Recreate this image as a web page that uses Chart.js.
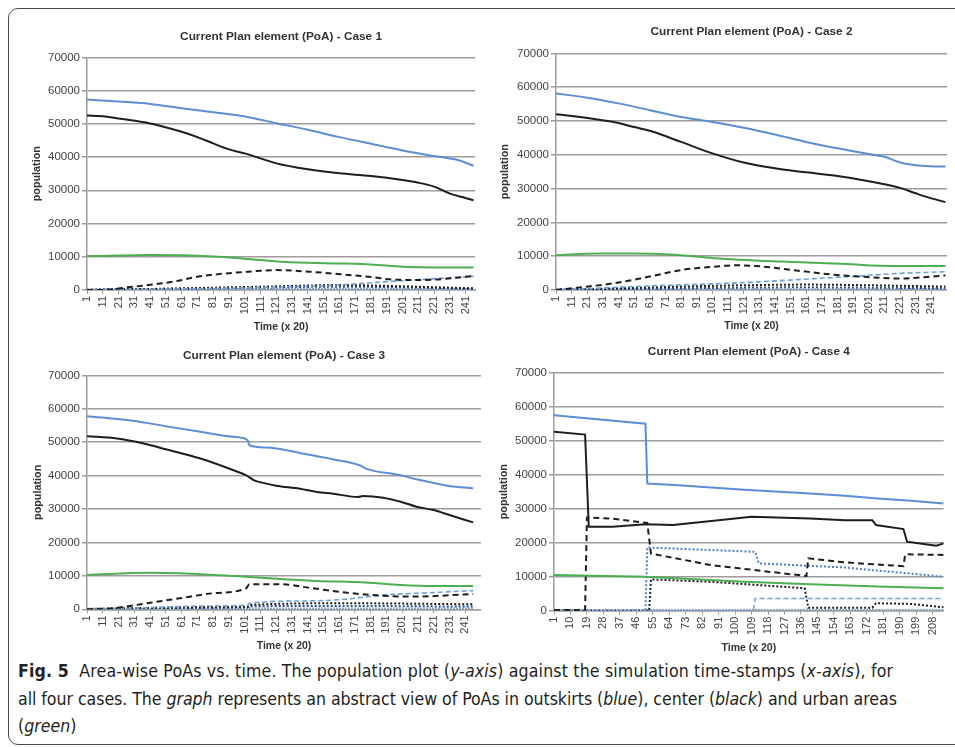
<!DOCTYPE html>
<html>
<head>
<meta charset="utf-8">
<script src="https://cdn.jsdelivr.net/npm/chart.js@4.4.1/dist/chart.umd.min.js"></script>
<style>
  body { margin: 0; width: 955px; height: 747px; background: #fff; position: relative; overflow: hidden; }
  .frame { position: absolute; left: 8px; top: 8px; width: 980px; height: 735px; border: 1.5px solid #4a4a4a; border-radius: 10px; }
  .panel { position: absolute; }
  .cap { position: absolute; left: 18px; font-family: "Liberation Sans Narrow", "DejaVu Sans Condensed", sans-serif; font-size: 17.6px; color: #231f20; white-space: nowrap; }
</style>
</head>
<body>
<div class="frame"></div>
<div class="panel" style="left:20px;top:20px;width:461px;height:317px"><canvas id="case1"></canvas></div>
<div class="panel" style="left:490px;top:15px;width:457px;height:322px"><canvas id="case2"></canvas></div>
<div class="panel" style="left:20px;top:338px;width:461px;height:322px"><canvas id="case3"></canvas></div>
<div class="panel" style="left:490px;top:338px;width:458px;height:322px"><canvas id="case4"></canvas></div>

<div class="cap" style="top:661px; letter-spacing:0.15px"><b>Fig. 5</b>&nbsp; Area-wise PoAs vs. time. The population plot (<i>y-axis</i>) against the simulation time-stamps (<i>x-axis</i>), for</div>
<div class="cap" style="top:689px; letter-spacing:-0.05px">all four cases. The <i>graph</i> represents an abstract view of PoAs in outskirts (<i>blue</i>), center (<i>black</i>) and urban areas</div>
<div class="cap" style="top:716px">(<i>green</i>)</div>

<script>
// tick labels
const yTicks = [0, 10000, 20000, 30000, 40000, 50000, 60000, 70000];
const ticks250 = [1, 11, 21, 31, 41, 51, 61, 71, 81, 91, 101, 111, 121, 131, 141, 151, 161, 171, 181, 191, 201, 211, 221, 231, 241];
const ticks214 = [1, 10, 19, 28, 37, 46, 55, 64, 73, 82, 91, 100, 109, 118, 127, 136, 145, 154, 163, 172, 181, 190, 199, 208];

// Case 1  [time step, population]
const case1Outskirts = [[1,57300],[21,56700],[41,56000],[61,54700],[81,53500],[101,52200],[121,50200],[141,48200],[161,46000],[181,44000],[201,42000],[221,40300],[236,39100],[246,37400]];
const case1Center = [[1,52500],[11,52300],[21,51600],[41,50100],[61,47600],[71,46000],[81,44100],[91,42300],[101,41100],[121,38100],[141,36300],[161,35100],[181,34300],[201,33100],[211,32300],[221,31100],[231,29000],[241,27700],[246,27000]];
const case1Urban = [[1,10200],[41,10500],[81,10100],[101,9400],[121,8600],[141,8200],[161,8000],[181,7700],[201,7000],[221,6800],[246,6800]];
const case1CenterDash = [[1,0],[10,0],[27,800],[45,1800],[58,2700],[70,3900],[83,4700],[103,5500],[121,6000],[142,5500],[163,4700],[183,3800],[193,3200],[214,3000],[246,4200]];
const case1OutDash = [[1,0],[41,200],[81,500],[121,900],[161,1500],[181,2200],[201,2800],[221,3400],[246,4100]];
const case1CenterDot = [[1,0],[41,300],[81,700],[121,1100],[161,1500],[201,1100],[246,500]];
const case1OutDot = [[1,100],[41,300],[81,500],[121,800],[161,1000],[201,800],[246,400]];
const case1Low = [[1,100],[81,200],[161,300],[246,200]];

// Case 2
const case2Outskirts = [[1,58100],[21,56900],[41,55200],[61,53200],[81,51200],[101,49700],[121,48000],[141,46000],[161,43800],[181,41900],[201,40200],[211,39400],[221,37700],[231,36900],[241,36600],[250,36500]];
const case2Center = [[1,52000],[11,51500],[21,50900],[41,49400],[51,48200],[61,47100],[81,43800],[101,40400],[121,37700],[141,36000],[161,34800],[181,33700],[201,32200],[221,30200],[231,28600],[241,27100],[250,26000]];
const case2Urban = [[1,10300],[28,10800],[50,10800],[77,10400],[102,9400],[145,8400],[187,7700],[208,7200],[250,7100]];
const case2CenterDash = [[1,0],[17,800],[38,2000],[60,3900],[81,5900],[102,6900],[117,7300],[134,6900],[156,5700],[177,4600],[198,3900],[220,3400],[250,4300]];
const case2OutDash = [[1,0],[30,600],[60,1200],[100,1800],[130,2400],[160,3200],[190,4000],[220,4900],[250,5400]];
const case2CenterDot = [[1,0],[41,500],[81,1000],[121,1400],[161,1600],[201,1400],[250,1000]];
const case2OutDot = [[1,100],[41,300],[81,500],[121,700],[161,800],[201,700],[250,500]];
const case2Low = [[1,100],[250,200]];

// Case 3
const case3Outskirts = [[1,57800],[30,56400],[51,54800],[73,53100],[94,51600],[103,50600],[104,49100],[115,48400],[136,46800],[147,45800],[157,44900],[174,43100],[178,42100],[200,40100],[210,38900],[221,37800],[231,36900],[246,36200]];
const case3Center = [[1,51800],[20,51100],[37,49600],[51,47900],[73,45100],[94,41600],[102,40100],[107,38600],[115,37600],[121,37000],[136,36100],[147,35100],[157,34600],[173,33600],[176,33900],[189,33400],[200,32200],[210,30700],[221,29700],[231,28200],[246,26000]];
const case3Urban = [[1,10300],[41,10900],[73,10500],[104,9700],[126,9000],[147,8500],[178,8000],[200,7300],[221,7000],[246,7000]];
const case3CenterDash = [[1,0],[17,300],[39,1800],[60,3300],[81,4800],[102,6300],[104,7500],[123,7500],[144,6300],[165,5000],[187,4100],[208,3800],[246,4600]];
const case3OutDash = [[1,0],[40,500],[80,1000],[103,1300],[104,1800],[140,2500],[165,3000],[187,4200],[220,5000],[246,5600]];
const case3CenterDot = [[1,0],[40,400],[80,700],[103,800],[104,1300],[165,1800],[246,1500]];
const case3OutDot = [[1,100],[60,400],[103,600],[104,900],[165,1000],[246,800]];
const case3Low = [[1,100],[246,200]];

// Case 4
const case4Outskirts = [[1,57500],[51,55000],[52,37400],[69,36900],[105,35600],[141,34500],[160,33800],[178,33000],[196,32300],[214,31500]];
const case4Center = [[1,52600],[18,51800],[20,24700],[33,24700],[51,25400],[66,25200],[87,26400],[109,27600],[141,27100],[160,26600],[175,26600],[177,25200],[192,24000],[194,20300],[205,19500],[210,19100],[214,19800]];
const case4Urban = [[1,10500],[51,10000],[105,8500],[141,7800],[178,7100],[214,6600]];
const case4CenterDash = [[1,200],[18,200],[19,27400],[33,27100],[52,25800],[54,16800],[87,13400],[139,10200],[140,15400],[160,14200],[192,13100],[193,16600],[214,16400]];
const case4OutDot = [[1,0],[51,0],[52,18600],[111,17300],[113,13900],[160,12700],[214,10000]];
const case4CenterDot = [[1,0],[53,0],[54,9200],[87,8500],[138,6600],[140,900],[175,900],[177,2200],[196,2000],[214,1000]];
const case4OutDash = [[1,0],[110,0],[111,3600],[214,3600]];
const case4Low = [[1,100],[214,100]];

const BLUE = "#5b8ed4", BLACK = "#1e1e1e", GREEN = "#4caf50", DBLUE = "#2f5597", MBLUE = "#4f7fc8", LBLUE = "#6f9fd8", GRAY = "#8da2c0";
const FONT = "'Liberation Sans', Arial, sans-serif";
const GRID = "#9c9c9c";

function series(points, color, width, dash, smooth) {
    return {
        data: points.map(p => ({ x: p[0], y: p[1] })),
        borderColor: color,
        borderWidth: width,
        borderDash: dash,
        pointRadius: 0,
        fill: false,
        tension: 0,
        cubicInterpolationMode: smooth ? "monotone" : "default"
    };
}

function makeChart(id, title, xTicks, xMax, sets, box) {
    new Chart(document.getElementById(id), {
        type: "line",
        data: { datasets: sets },
        options: {
            responsive: true,
            maintainAspectRatio: false,
            animation: false,
            layout: { padding: 0 },
            plugins: {
                legend: { display: false },
                tooltip: { enabled: false },
                title: {
                    display: true,
                    text: title,
                    fullSize: false,
                    color: "#333",
                    font: { family: FONT, size: 11.8, weight: "bold" },
                    padding: { top: box.tTop, bottom: box.tBottom }
                }
            },
            scales: {
                x: {
                    type: "linear",
                    min: 1,
                    max: xMax,
                    afterBuildTicks: sc => { sc.ticks = xTicks.map(v => ({ value: v })); },
                    afterFit: sc => { sc.height = box.xHeight; },
                    ticks: { autoSkip: false, minRotation: 90, maxRotation: 90, padding: 2, color: "#444", font: { family: FONT, size: 11 }, callback: v => String(v) },
                    grid: { drawOnChartArea: false, tickLength: 4, color: GRID },
                    border: { color: GRID, width: 1.5 },
                    title: { display: true, text: "Time (x 20)", color: "#333", font: { family: FONT, size: 10.5, weight: "bold" }, padding: { top: 0, bottom: box.xPad } }
                },
                y: {
                    min: 0,
                    max: 70000,
                    afterBuildTicks: sc => { sc.ticks = yTicks.map(v => ({ value: v })); },
                    afterFit: sc => { sc.width = box.yWidth; },
                    ticks: { padding: 2, color: "#444", font: { family: FONT, size: 11.5 }, callback: v => String(v) },
                    grid: { color: GRID, lineWidth: 1.5, tickLength: 5 },
                    border: { color: GRID, width: 1.5 },
                    title: { display: true, text: "population", color: "#333", font: { family: FONT, size: 10.8, weight: "bold" }, padding: { top: box.yPad, bottom: 0 } }
                }
            }
        }
    });
}

function caseSets(o, c, u, cDash, oDash, cDot, oDot, low, smooth, oDotColor) {
    return [
        series(o, BLUE, 2, [], smooth),
        series(c, BLACK, 2, [], smooth),
        series(u, GREEN, 2, [], smooth),
        series(cDash, BLACK, 2, [6, 4], smooth),
        series(oDash, LBLUE, 1.6, [5, 3], smooth),
        series(cDot, BLACK, 2, [2, 2], smooth),
        series(oDot, oDotColor || DBLUE, 2, [2, 2], smooth),
        series(low, GRAY, 2.5, [2, 1], smooth)
    ];
}

makeChart("case1", "Current Plan element (PoA) - Case 1", ticks250, 247,
    caseSets(case1Outskirts, case1Center, case1Urban, case1CenterDash, case1OutDash, case1CenterDot, case1OutDot, case1Low, true),
    { tTop: 10.1, tBottom: 13.1, xHeight: 47, xPad: 3.7, yWidth: 67, yPad: 10.4 });

makeChart("case2", "Current Plan element (PoA) - Case 2", ticks250, 251,
    caseSets(case2Outskirts, case2Center, case2Urban, case2CenterDash, case2OutDash, case2CenterDot, case2OutDot, case2Low, true),
    { tTop: 10.1, tBottom: 14.1, xHeight: 47, xPad: 4.4, yWidth: 66, yPad: 8.4 });

makeChart("case3", "Current Plan element (PoA) - Case 3", ticks250, 251,
    caseSets(case3Outskirts, case3Center, case3Urban, case3CenterDash, case3OutDash, case3CenterDot, case3OutDot, case3Low, true),
    { tTop: 10.8, tBottom: 12.4, xHeight: 50.7, xPad: 7.4, yWidth: 67, yPad: 11.1 });

makeChart("case4", "Current Plan element (PoA) - Case 4", ticks214, 214,
    caseSets(case4Outskirts, case4Center, case4Urban, case4CenterDash, case4OutDash, case4CenterDot, case4OutDot, case4Low, false, MBLUE),
    { tTop: 6.8, tBottom: 13.7, xHeight: 49.3, xPad: 5.1, yWidth: 64, yPad: 7.4 });
</script>
</body>
</html>
